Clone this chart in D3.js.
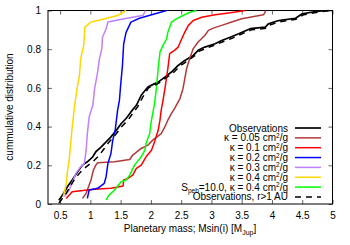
<!DOCTYPE html>
<html>
<head>
<meta charset="utf-8">
<script src="https://cdn.jsdelivr.net/npm/d3@7"></script>
<style>
  body { margin: 0; background: #fff; }
  svg { display: block; font-family: "Liberation Sans", Arial, sans-serif; }
</style>
</head>
<body>
<svg id="chart" width="350" height="245"></svg>
<script>
// tick values / labels
const xTicks = [0.5, 1, 1.5, 2, 2.5, 3, 3.5, 4, 4.5, 5];
const yTicks = [0, 0.2, 0.4, 0.6, 0.8, 1];

// [mass, cumulative fraction]
const obs = [[0.48,0.02],[0.54,0.046],[0.62,0.089],[0.70,0.124],[0.79,0.166],[0.87,0.201],[0.95,0.218],[1.04,0.244],[1.09,0.27],[1.18,0.295],[1.26,0.321],[1.34,0.347],[1.43,0.381],[1.51,0.416],[1.59,0.442],[1.67,0.476],[1.76,0.51],[1.84,0.562],[1.95,0.605],[2.03,0.617],[2.12,0.63],[2.23,0.656],[2.34,0.682],[2.45,0.716],[2.56,0.742],[2.70,0.768],[2.78,0.794],[2.89,0.811],[3.06,0.828],[3.17,0.845],[3.31,0.862],[3.45,0.88],[3.64,0.906],[3.89,0.914],[3.94,0.931],[4.11,0.948],[4.39,0.96],[4.50,0.983],[4.72,0.995],[4.94,1.0]];
const k005 = [[0.87,0.029],[0.93,0.055],[1.01,0.124],[1.05,0.175],[1.09,0.201],[1.12,0.213],[1.40,0.218],[1.65,0.23],[1.70,0.253],[1.84,0.287],[1.95,0.304],[2.03,0.33],[2.17,0.364],[2.23,0.398],[2.28,0.433],[2.34,0.468],[2.39,0.493],[2.48,0.545],[2.53,0.596],[2.56,0.648],[2.59,0.7],[2.64,0.751],[2.70,0.803],[2.78,0.837],[2.89,0.871],[2.95,0.897],[3.03,0.909],[3.17,0.923],[3.31,0.938],[3.50,0.957],[3.86,0.978],[3.90,1.0]];
const k01 = [[0.60,0.029],[0.70,0.063],[0.84,0.069],[1.07,0.076],[1.34,0.081],[1.43,0.086],[1.54,0.093],[1.55,0.124],[1.62,0.132],[1.70,0.149],[1.76,0.184],[1.84,0.201],[1.92,0.244],[2.01,0.278],[2.06,0.321],[2.12,0.381],[2.15,0.433],[2.17,0.485],[2.20,0.536],[2.24,0.613],[2.28,0.7],[2.31,0.777],[2.39,0.794],[2.45,0.811],[2.51,0.854],[2.56,0.888],[2.62,0.923],[2.70,0.948],[2.84,0.965],[3.06,0.978],[3.31,0.988],[3.56,1.0]];
const k02 = [[0.95,0.029],[0.98,0.072],[1.12,0.081],[1.23,0.107],[1.26,0.141],[1.29,0.21],[1.34,0.261],[1.37,0.33],[1.41,0.381],[1.43,0.433],[1.45,0.485],[1.48,0.536],[1.50,0.613],[1.53,0.716],[1.55,0.828],[1.59,0.887],[1.67,0.94],[1.81,0.96],[2.26,1.0]];
const k03 = [[0.57,0.038],[0.65,0.072],[0.76,0.158],[0.84,0.192],[0.90,0.21],[0.93,0.278],[0.95,0.364],[0.98,0.45],[1.04,0.51],[1.07,0.596],[1.12,0.682],[1.15,0.751],[1.19,0.803],[1.20,0.862],[1.26,0.906],[1.29,0.94],[1.56,0.957],[1.81,0.971],[1.87,0.974],[1.91,1.0]];
const k04 = [[0.55,0.038],[0.60,0.098],[0.62,0.166],[0.65,0.227],[0.68,0.33],[0.70,0.398],[0.74,0.51],[0.78,0.596],[0.82,0.665],[0.84,0.751],[0.89,0.82],[0.91,0.914],[1.01,0.94],[1.12,0.948],[1.45,0.974],[1.59,1.0]];
const speb = [[1.26,0.021],[1.31,0.046],[1.40,0.072],[1.51,0.115],[1.59,0.124],[1.65,0.149],[1.73,0.201],[1.84,0.244],[1.90,0.278],[1.92,0.313],[1.98,0.364],[2.00,0.416],[2.03,0.468],[2.06,0.519],[2.09,0.596],[2.12,0.7],[2.15,0.785],[2.20,0.82],[2.26,0.854],[2.28,0.888],[2.34,0.94],[2.42,0.957],[2.53,0.974],[2.62,0.988],[2.75,1.0]];
const obsFar = [[0.48,0.005],[0.60,0.055],[0.73,0.124],[0.84,0.166],[0.93,0.192],[1.04,0.218],[1.15,0.253],[1.23,0.287],[1.31,0.321],[1.43,0.364],[1.51,0.398],[1.62,0.433],[1.70,0.468],[1.78,0.502],[1.86,0.55],[1.96,0.60],[2.05,0.612],[2.13,0.625],[2.24,0.65],[2.36,0.675],[2.47,0.71],[2.58,0.735],[2.72,0.765],[2.80,0.79],[2.92,0.805],[3.08,0.825],[3.20,0.84],[3.33,0.855],[3.47,0.875],[3.66,0.90],[3.90,0.908],[3.96,0.925],[4.13,0.942],[4.40,0.955],[4.52,0.978],[4.73,0.99],[4.95,1.0]];

const series = [
  { name: "obs", data: obs, color: "#000000", width: 1.7 },
  { name: "k005", data: k005, color: "#b03a3a", width: 1.5 },
  { name: "k01", data: k01, color: "#ff0000", width: 1.5 },
  { name: "k02", data: k02, color: "#0000ff", width: 1.5 },
  { name: "k03", data: k03, color: "#c080ff", width: 1.5 },
  { name: "k04", data: k04, color: "#ffd700", width: 1.5 },
  { name: "speb", data: speb, color: "#00ff00", width: 1.5 },
  { name: "obsFar", data: obsFar, color: "#000000", width: 1.5, dash: "6,5" }
];

const plot = { left: 48, right: 332.5, top: 10.5, bottom: 204 };
const svg = d3.select("#chart");

const x = d3.scaleLinear().domain([0.3, 5]).range([plot.left, plot.right]);
const y = d3.scaleLinear().domain([0, 1]).range([plot.bottom, plot.top]);

svg.append("clipPath").attr("id", "clip")
  .append("rect")
  .attr("x", plot.left).attr("y", plot.top - 1)
  .attr("width", plot.right - plot.left).attr("height", plot.bottom - plot.top + 1);

// axes with inward ticks, mirrored on top/right
const tickFont = g => g.selectAll("text").attr("font-size", 10).attr("fill", "#000")
  .attr("font-family", "Liberation Sans, Arial, sans-serif");

const gx = svg.append("g").attr("transform", `translate(0,${plot.bottom})`)
  .call(d3.axisBottom(x).tickValues(xTicks).tickFormat(d3.format("")).tickSizeInner(-4).tickSizeOuter(0).tickPadding(8));
gx.call(tickFont);
const gxTop = svg.append("g").attr("transform", `translate(0,${plot.top})`)
  .call(d3.axisTop(x).tickValues(xTicks).tickFormat("").tickSizeInner(-4).tickSizeOuter(0));

const gy = svg.append("g").attr("transform", `translate(${plot.left},0)`)
  .call(d3.axisLeft(y).tickValues(yTicks).tickFormat(d3.format("")).tickSizeInner(-4).tickSizeOuter(0).tickPadding(7));
gy.call(tickFont);
const gyRight = svg.append("g").attr("transform", `translate(${plot.right},0)`)
  .call(d3.axisRight(y).tickValues(yTicks).tickFormat("").tickSizeInner(-4).tickSizeOuter(0));

[gx, gxTop, gy, gyRight].forEach(g => {
  g.select(".domain").remove();
  g.selectAll("line").attr("stroke", "#666");
});

// border
svg.append("rect")
  .attr("x", plot.left).attr("y", plot.top)
  .attr("width", plot.right - plot.left).attr("height", plot.bottom - plot.top)
  .attr("fill", "none").attr("stroke", "#000").attr("stroke-width", 1);

// curves
const line = d3.line().x(d => x(d[0])).y(d => y(d[1]));

svg.append("g").attr("clip-path", "url(#clip)")
  .selectAll("path")
  .data(series)
  .join("path")
  .attr("d", d => line(d.data))
  .attr("fill", "none")
  .attr("stroke", d => d.color)
  .attr("stroke-width", d => d.width)
  .attr("stroke-dasharray", d => d.dash || null)
  .attr("stroke-linejoin", "round");

// legend
const legend = svg.append("g").attr("font-size", 10);
const legX = 288, legY0 = 128, legDy = 9.85;
const sup = (t, s) => t.append("tspan").attr("dy", -3.5).attr("font-size", 6.5).text(s);
const back = (t, s, dy) => t.append("tspan").attr("dy", dy).text(s);
const kappa = v => t => { t.text(`\u03ba = ${v} cm`); sup(t, "2"); back(t, "/g", 3.5); };
const labels = [
  t => t.text("Observations"),
  kappa("0.05"), kappa("0.1"), kappa("0.2"), kappa("0.3"), kappa("0.4"),
  t => {
    t.text("S");
    t.append("tspan").attr("dy", 2).attr("font-size", 6.5).text("peb");
    back(t, "=10.0, \u03ba = 0.4 cm", -2);
    sup(t, "2");
    back(t, "/g", 3.5);
  },
  t => t.text("Observations, r>1 AU")
];

series.forEach((s, i) => {
  const yy = legY0 + i * legDy;
  const t = legend.append("text")
    .attr("x", legX).attr("y", yy + 3.5)
    .attr("text-anchor", "end");
  labels[i](t);
  legend.append("line")
    .attr("x1", 295).attr("x2", 321)
    .attr("y1", yy).attr("y2", yy)
    .attr("stroke", s.color)
    .attr("stroke-width", s.width)
    .attr("stroke-dasharray", s.dash || null);
});

// axis titles
svg.append("text")
  .attr("transform", `translate(13,107) rotate(-90)`)
  .attr("text-anchor", "middle")
  .attr("font-size", 10)
  .text("cummulative distribution");

const xt = svg.append("text")
  .attr("x", 190).attr("y", 232)
  .attr("text-anchor", "middle")
  .attr("font-size", 10)
  .text("Planetary mass; Msin(i) [M");
xt.append("tspan").attr("dy", 2.5).attr("font-size", 7).text("Jup");
xt.append("tspan").attr("dy", -2.5).text("]");
</script>
</body>
</html>
